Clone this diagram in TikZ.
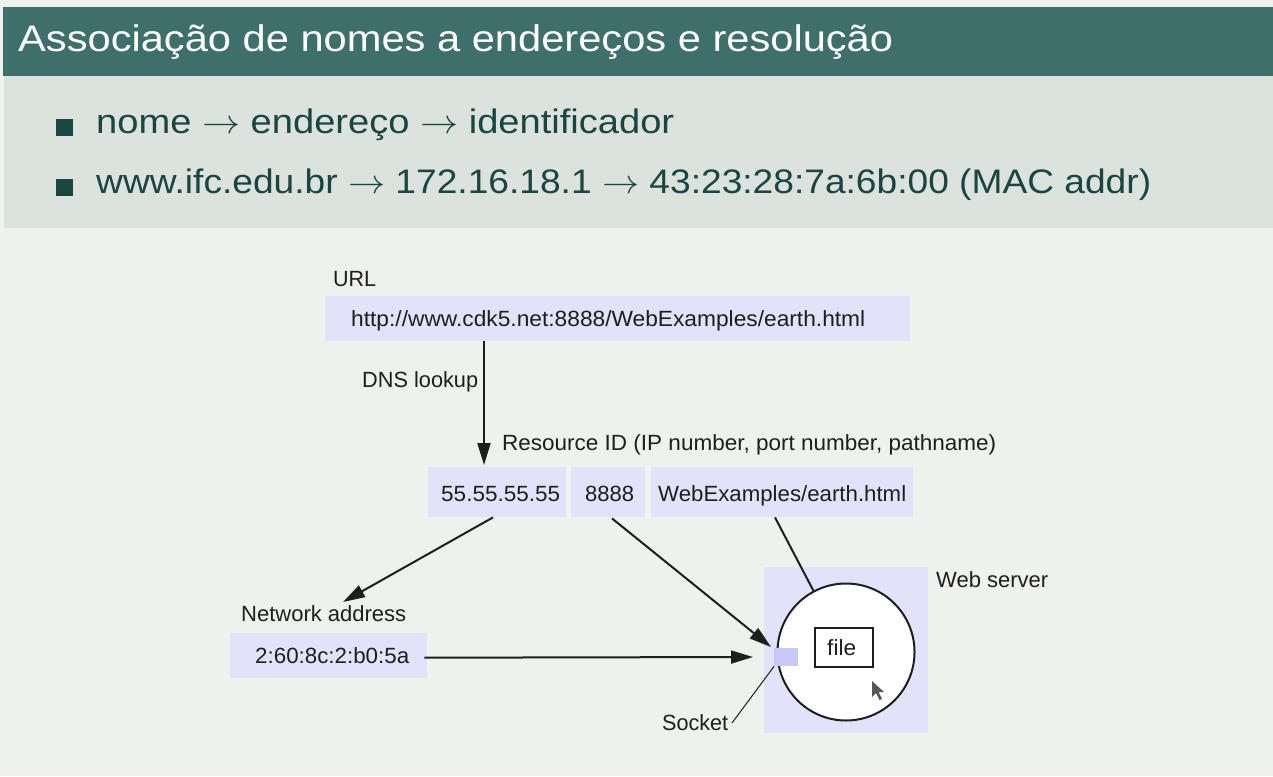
\RequirePackage{fix-cm}
\documentclass[tikz,border=0pt]{standalone}
\usepackage{fontspec}
\setmainfont{Liberation Sans}
\usetikzlibrary{arrows.meta,calc}
\definecolor{bgc}{HTML}{EFF1EC}
\definecolor{titlec}{HTML}{3E6F6A}
\definecolor{bandc}{HTML}{DCE3DF}
\definecolor{tealtext}{HTML}{1B4541}
\definecolor{lav}{HTML}{E2E2FA}
\definecolor{sockc}{HTML}{C9C9F7}
\definecolor{ink}{HTML}{1E1E1E}
\newcommand{\fitw}[2]{\resizebox{#1pt}{\height}{#2}}
\begin{document}
\begin{tikzpicture}[x=1pt,y=-1pt,
  lbox/.style={fill=lav, inner sep=0pt, anchor=north west},
  dtext/.style={anchor=base west, inner sep=0pt, text=ink, font=\fontsize{22}{25}\selectfont},
  btext/.style={anchor=base west, inner sep=0pt, text=tealtext, font=\fontsize{34}{38}\selectfont},
  bul/.style={fill=tealtext, minimum size=17pt, inner sep=0pt},
  arr/.style={draw=ink, line width=2pt, -{Triangle[length=22pt,width=13pt]}},
  conn/.style={draw=ink, line width=2pt}
]
\useasboundingbox (0,0) rectangle (1273,776);
\fill[bgc] (0,0) rectangle (1273,776);
\fill[titlec] (3,7) rectangle (1273,76);
\fill[bandc] (4,76) rectangle (1273,228);

% title
\node[anchor=base west, inner sep=0pt, text=white, font=\fontsize{37}{40}\selectfont] (title) at (18,52)
  {\fitw{875}{Associação de nomes a endereços e resolução}};

% bullets
\node[bul] (b1) at (64.5,127.5) {};
\node[btext] (l1) at (96,133) {\fitw{578}{nome $\rightarrow$ endereço $\rightarrow$ identificador}};
\node[bul] (b2) at (64.5,187.5) {};
\node[btext] (l2) at (96,193) {\fitw{1055}{www.ifc.edu.br $\rightarrow$ 172.16.18.1 $\rightarrow$ 43:23:28:7a:6b:00 (MAC addr)}};

% URL
\node[dtext] (urllbl) at (333,286) {\fitw{43}{URL}};
\node[lbox, minimum width=585pt, minimum height=45pt] (url) at (325,296) {};
\node[dtext] (urltxt) at (351,326) {\fitw{514}{http://www.cdk5.net:8888/WebExamples/earth.html}};

\node[dtext] (dns) at (362,387) {\fitw{116}{DNS lookup}};
\node[dtext] (resid) at (502,450) {\fitw{494}{Resource ID (IP number, port number, pathname)}};

% resource ID boxes
\node[lbox, minimum width=138pt, minimum height=50pt] (ip) at (428,467) {};
\node[dtext] (iptxt) at (441,501) {\fitw{119}{55.55.55.55}};
\node[lbox, minimum width=74pt, minimum height=50pt] (port) at (571,467) {};
\node[dtext] (porttxt) at (585,501) {\fitw{49}{8888}};
\node[lbox, minimum width=262pt, minimum height=50pt] (path) at (651,467) {};
\node[dtext] (pathtxt) at (658,501) {\fitw{248}{WebExamples/earth.html}};

% network address
\node[dtext] (netlbl) at (241,621) {\fitw{165}{Network address}};
\node[lbox, minimum width=197pt, minimum height=45pt] (mac) at (230,633) {};
\node[dtext] (mactxt) at (255,663) {\fitw{154}{2:60:8c:2:b0:5a}};

% web server
\node[lbox, minimum width=164pt, minimum height=166pt] (srv) at (764,567) {};
\node[dtext] (srvlbl) at (936,587) {\fitw{112}{Web server}};
\node[circle, draw=ink, line width=2pt, fill=white, minimum size=137pt, inner sep=0pt] (circ) at (846,652) {};
\node[fill=sockc, minimum width=24pt, minimum height=18pt, inner sep=0pt, anchor=north west] (sock) at (774,648) {};
\node[draw=ink, line width=2pt, fill=white, minimum width=58pt, minimum height=39pt, inner sep=0pt] (file) at (844,647.5) {};
\node[dtext] (filetxt) at (827,655) {\fitw{29}{file}};
\node[dtext] (socklbl) at (662,730) {\fitw{66}{Socket}};

% cursor
\fill[ink!75] (872,681) -- (872,697) -- (876,693) -- (879.5,700) -- (882,699) -- (878.5,692) -- (884,692) -- cycle;

% coordinates
\coordinate (dnsx) at (484,0);
\coordinate (nettip) at (343,602);
\coordinate (socktip) at (771,647);
\coordinate (sockleft) at (753,657);
\coordinate (socklead) at (732,723);

% connectors
\draw[arr] (url.south -| dnsx) -- ($(ip.north -| dnsx)+(0,-2)$);
\draw[arr] ($(ip.south west)+(65,0)$) -- (nettip);
\draw[arr] ($(port.south west)+(41,1)$) -- (socktip);
\draw[arr] ($(mac.east)+(-3,2)$) -- (sockleft);
\draw[conn] ($(path.south west)+(124,0)$) -- (circ.118);
\draw[draw=ink, line width=1pt] (sock.south west) -- (socklead);
\end{tikzpicture}
\end{document}
